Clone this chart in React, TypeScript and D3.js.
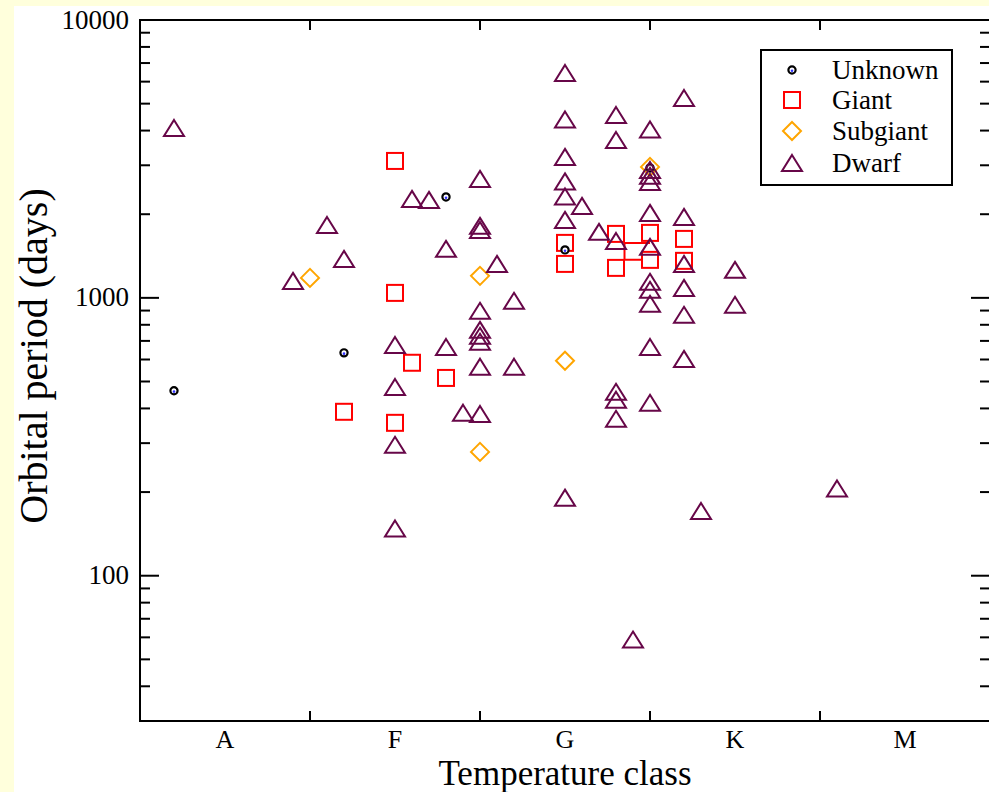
import React, { useEffect, useRef } from 'react';
import * as d3 from 'd3';

// Spectral class labels (x = 0..4)
const classLabels = ['A', 'F', 'G', 'K', 'M'];
const yMajorTicks = [100, 1000, 10000];

// [class position, orbital period in days]
const unknownPoints: [number, number][] = [
  [-0.3, 463], [0.7, 634], [1.3, 2308], [2.0, 1488], [2.5, 2935]
];

const giantPoints: [number, number][] = [
  [1.0, 3110], [1.0, 1042], [1.1, 584], [1.3, 515], [0.7, 389], [1.0, 355],
  [2.0, 1577], [2.0, 1325], [2.3, 1699], [2.3, 1282], [2.5, 1713], [2.5, 1370],
  [2.7, 1630], [2.7, 1359]
];

// short red connector between two giant pairs
const giantLink: [number, number][] = [
  [2.5, 1577], [2.35, 1577], [2.35, 1370], [2.5, 1370]
];

const subgiantPoints: [number, number][] = [
  [0.5, 1180], [1.5, 1200], [2.0, 594], [1.5, 279], [2.5, 2960]
];

const dwarfPoints: [number, number][] = [
  [-0.3, 4088], [0.4, 1151], [0.6, 1830], [0.7, 1381],
  [1.0, 677], [1.0, 478], [1.0, 296], [1.0, 148],
  [1.1, 2271], [1.2, 2252], [1.3, 1501], [1.3, 666], [1.4, 386],
  [1.5, 2680], [1.5, 1816], [1.5, 1756], [1.5, 898], [1.5, 767], [1.5, 730],
  [1.5, 695], [1.5, 565], [1.5, 382],
  [1.6, 1325], [1.7, 976], [1.7, 565],
  [2.0, 6448], [2.0, 4387], [2.0, 3216], [2.0, 2625], [2.0, 2318], [2.0, 1908], [2.0, 191],
  [2.1, 2143], [2.2, 1728],
  [2.3, 4552], [2.3, 3701], [2.3, 1603], [2.3, 459], [2.3, 430], [2.3, 367],
  [2.4, 58.9],
  [2.5, 4038], [2.5, 2886], [2.5, 2748], [2.5, 2614], [2.5, 2022], [2.5, 1526],
  [2.5, 1142], [2.5, 1069], [2.5, 952], [2.5, 666], [2.5, 419],
  [2.7, 5242], [2.7, 1956], [2.7, 1325], [2.7, 1086], [2.7, 869], [2.7, 603],
  [2.8, 171], [3.0, 1261], [3.0, 944], [3.6, 206]
];

const legendItems = ['Unknown', 'Giant', 'Subgiant', 'Dwarf'];

const RED = '#ff0000';
const ORANGE = '#ffa500';
const MAROON = '#670748';
const FONT = '"Liberation Serif", "Times New Roman", serif';

const App = () => {
  const ref = useRef<SVGSVGElement | null>(null);

  useEffect(() => {
    const width = 989;
    const height = 792;
    const left = 140, right = 990, top = 20, bottom = 721;

    const svg = d3.select(ref.current);
    svg.selectAll('*').remove();

    // page
    svg.append('rect').attr('width', width).attr('height', height).attr('fill', '#ffffdc');
    svg.append('rect').attr('x', 14).attr('y', 6).attr('width', width).attr('height', height).attr('fill', '#fff');

    const x = d3.scaleLinear().domain([-0.5, 4.5]).range([left, right]);
    const y = d3.scaleLog().domain([30, 10000]).range([bottom, top]);

    // minor log ticks
    const minor: number[] = [];
    [10, 100, 1000].forEach(dec => {
      for (let k = 2; k <= 9; k++) {
        const v = k * dec;
        if (v >= 30 && v < 10000) minor.push(v);
      }
    });

    const axes = svg.append('g').attr('stroke', '#000').attr('stroke-width', 2);
    yMajorTicks.forEach(v => {
      axes.append('line').attr('x1', left).attr('x2', left + 19).attr('y1', y(v)).attr('y2', y(v));
      axes.append('line').attr('x1', right).attr('x2', right - 19).attr('y1', y(v)).attr('y2', y(v));
    });
    minor.forEach(v => {
      axes.append('line').attr('x1', left).attr('x2', left + 10).attr('y1', y(v)).attr('y2', y(v));
      axes.append('line').attr('x1', right).attr('x2', right - 10).attr('y1', y(v)).attr('y2', y(v));
    });
    [0.5, 1.5, 2.5, 3.5].forEach(v => {
      axes.append('line').attr('x1', x(v)).attr('x2', x(v)).attr('y1', bottom).attr('y2', bottom - 10);
      axes.append('line').attr('x1', x(v)).attr('x2', x(v)).attr('y1', top).attr('y2', top + 10);
    });
    axes.append('rect')
      .attr('x', left).attr('y', top)
      .attr('width', right - left).attr('height', bottom - top)
      .attr('fill', 'none');

    // tick labels
    svg.append('g')
      .selectAll('text')
      .data(yMajorTicks)
      .join('text')
      .attr('x', left - 11)
      .attr('y', d => y(d) + 8.5)
      .attr('text-anchor', 'end')
      .attr('font-family', FONT)
      .attr('font-size', 27)
      .text(d => d);

    svg.append('g')
      .selectAll('text')
      .data(classLabels)
      .join('text')
      .attr('x', (_d, i) => x(i))
      .attr('y', 748)
      .attr('text-anchor', 'middle')
      .attr('font-family', FONT)
      .attr('font-size', 26)
      .text(d => d);

    // axis titles
    svg.append('text')
      .attr('x', (left + right) / 2)
      .attr('y', 785)
      .attr('text-anchor', 'middle')
      .attr('font-family', FONT)
      .attr('font-size', 35)
      .text('Temperature class');

    svg.append('text')
      .attr('transform', `translate(47,356) rotate(-90)`)
      .attr('text-anchor', 'middle')
      .attr('font-family', FONT)
      .attr('font-size', 40)
      .text('Orbital period (days)');

    // symbols
    const drawSquare = (g: any, cx: number, cy: number) =>
      g.append('rect').attr('x', cx - 8).attr('y', cy - 8).attr('width', 16).attr('height', 16)
        .attr('fill', '#fff').attr('stroke', RED).attr('stroke-width', 2);
    const drawDiamond = (g: any, cx: number, cy: number) =>
      g.append('path').attr('d', `M${cx},${cy - 9}L${cx + 9},${cy}L${cx},${cy + 9}L${cx - 9},${cy}Z`)
        .attr('fill', 'none').attr('stroke', ORANGE).attr('stroke-width', 2);
    const drawTriangle = (g: any, cx: number, cy: number) =>
      g.append('path').attr('d', `M${cx},${cy - 8}L${cx + 10},${cy + 8}L${cx - 10},${cy + 8}Z`)
        .attr('fill', 'none').attr('stroke', MAROON).attr('stroke-width', 2);
    const drawCircle = (g: any, cx: number, cy: number) => {
      g.append('circle').attr('cx', cx).attr('cy', cy).attr('r', 3.6)
        .attr('fill', '#fff').attr('stroke', '#000').attr('stroke-width', 2.2);
      g.append('circle').attr('cx', cx).attr('cy', cy + 0.8).attr('r', 1.3).attr('fill', '#3030ff');
    };

    const plot = svg.append('g');
    const line = d3.line<[number, number]>().x(d => x(d[0])).y(d => y(d[1]));
    plot.append('path').attr('d', line(giantLink)).attr('fill', 'none').attr('stroke', RED).attr('stroke-width', 2);

    giantPoints.forEach(d => drawSquare(plot, x(d[0]), y(d[1])));
    unknownPoints.forEach(d => drawCircle(plot, x(d[0]), y(d[1])));
    subgiantPoints.forEach(d => drawDiamond(plot, x(d[0]), y(d[1])));
    dwarfPoints.forEach(d => drawTriangle(plot, x(d[0]), y(d[1])));

    // legend
    const lg = svg.append('g');
    lg.append('rect').attr('x', 761).attr('y', 50).attr('width', 191).attr('height', 135)
      .attr('fill', '#fff').attr('stroke', '#000').attr('stroke-width', 2);
    const rowY = [70, 100, 131, 163];
    drawCircle(lg, 792, rowY[0]);
    drawSquare(lg, 792, rowY[1]);
    drawDiamond(lg, 792, rowY[2]);
    drawTriangle(lg, 792, rowY[3]);
    legendItems.forEach((name, i) => {
      lg.append('text')
        .attr('x', 832)
        .attr('y', rowY[i] + 9)
        .attr('font-family', FONT)
        .attr('font-size', 27)
        .text(name);
    });
  }, []);

  return (
    <div style={{ position: 'absolute', left: 0, top: 0 }}>
      <svg ref={ref} width={989} height={792} style={{ display: 'block' }} />
    </div>
  );
};

export default App;
